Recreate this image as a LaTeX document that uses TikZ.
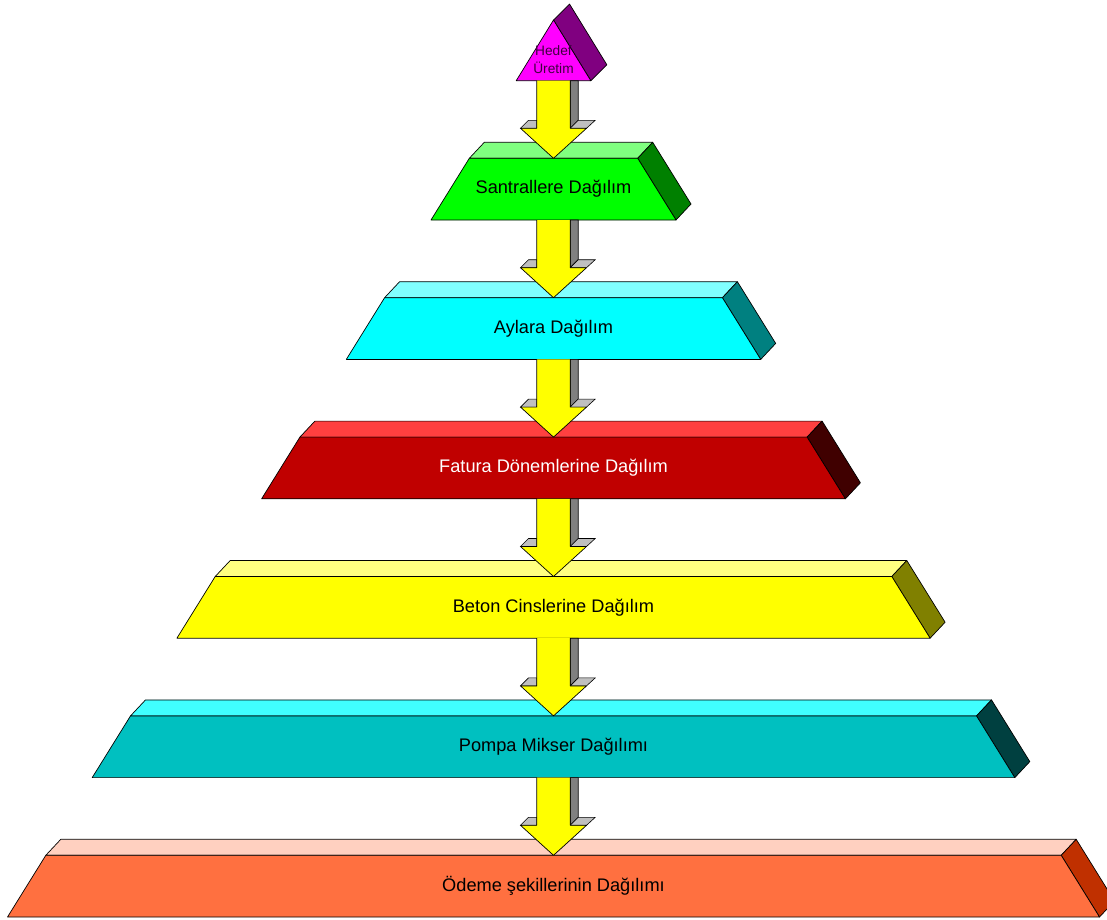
\documentclass[tikz,border=0pt]{standalone}
\usepackage{fontspec}
\setmainfont{Liberation Sans}
\usetikzlibrary{calc}

% colours of the faces: front, top and side
\definecolor{hedeffront}{HTML}{FF00FF}
\definecolor{hedefside}{HTML}{800080}
\definecolor{santralfront}{HTML}{00FF00}
\definecolor{santraltop}{HTML}{80FF80}
\definecolor{santralside}{HTML}{008000}
\definecolor{aylarfront}{HTML}{00FFFF}
\definecolor{aylartop}{HTML}{80FFFF}
\definecolor{aylarside}{HTML}{008080}
\definecolor{faturafront}{HTML}{C00000}
\definecolor{faturatop}{HTML}{FF4040}
\definecolor{faturaside}{HTML}{400000}
\definecolor{betonfront}{HTML}{FFFF00}
\definecolor{betontop}{HTML}{FFFF80}
\definecolor{betonside}{HTML}{808000}
\definecolor{pompafront}{HTML}{00C0C0}
\definecolor{pompatop}{HTML}{40FFFF}
\definecolor{pompaside}{HTML}{004040}
\definecolor{odemefront}{HTML}{FF7040}
\definecolor{odemetop}{HTML}{FFD0C0}
\definecolor{odemeside}{HTML}{C03000}
\definecolor{hedeftext}{HTML}{400040}
\definecolor{arrowfill}{HTML}{FFFF00}

\tikzset{
    face/.style={draw=black, line width=0.7pt, line join=round},
    lvltext/.style={font=\fontsize{18.2}{21}\selectfont, inner sep=0pt},
    shelf/.style={draw=black, line width=0.6pt, fill=black!25},
    shaft/.style={draw=black, line width=0.6pt, fill=black!50},
    blockarrow/.style={draw=black, line width=0.7pt, fill=arrowfill, line join=round}
}

\begin{document}
\begin{tikzpicture}[x=1pt, y=-1pt]
        % picture frame, same size as the reference
        \clip (0,0) rectangle (1107,919);
        \fill[white] (0,0) rectangle (1107,919);
        % the small pyramid on top: side face, then front face
        \filldraw[face, fill=hedefside] (553.5,20) -- (569.5,4) -- (606.8,64.7) -- (590.8,80.7) -- cycle;
        \filldraw[face, fill=hedeffront] (553.5,20) -- (590.8,80.7) -- (516.2,80.7) -- cycle;
        \node[font=\fontsize{13.7}{18}\selectfont, text=hedeftext, align=center, inner sep=0pt]
            (hedef) at (553.5,60) {Hedef\\Üretim};
        \coordinate (hedef-bot) at (553.5,80.7);
        % the six levels of the pyramid
        \foreach \i/\nm/\txt/\tcol in {
            1/santral/Santrallere Dağılım/black,
            2/aylar/Aylara Dağılım/black,
            3/fatura/Fatura Dönemlerine Dağılım/white,
            4/beton/Beton Cinslerine Dağılım/black,
            5/pompa/Pompa Mikser Dağılımı/black,
            6/odeme/Ödeme şekillerinin Dağılımı/black}{
            % top and bottom of the front face
            \pgfmathsetmacro{\ytop}{158.3+139.4*(\i-1)}
            \pgfmathsetmacro{\ybot}{\ytop+61.7}
            % half widths at the bottom and at the top
            \pgfmathsetmacro{\wbot}{122.5+84.7*(\i-1)}
            \pgfmathsetmacro{\wtop}{\wbot-38.3}
            % top face
            \filldraw[face, fill=\nm top] (553.5-\wtop,\ytop) -- (568.5-\wtop,\ytop-16)
                -- (568.5+\wtop,\ytop-16) -- (553.5+\wtop,\ytop) -- cycle;
            % side face
            \filldraw[face, fill=\nm side] (553.5+\wtop,\ytop) -- (568.5+\wtop,\ytop-16)
                -- (568.5+\wbot,\ybot-16) -- (553.5+\wbot,\ybot) -- cycle;
            % front face
            \filldraw[face, fill=\nm front] (553.5-\wbot,\ybot) -- (553.5+\wbot,\ybot)
                -- (553.5+\wtop,\ytop) -- (553.5-\wtop,\ytop) -- cycle;
            % label and anchor points for the arrows
            \node[lvltext, text=\tcol] (\nm) at (553.5,{(\ytop+\ybot)/2}) {\txt};
            \coordinate (\nm-top) at (553.5,\ytop);
            \coordinate (\nm-bot) at (553.5,\ybot);
        }
        % block arrows from each level down to the next
        \foreach \a/\b in {hedef/santral, santral/aylar, aylar/fatura,
                           fatura/beton, beton/pompa, pompa/odeme}{
            % grey side of the shaft
            \filldraw[shaft] ($(\a-bot)+(16.7,0)$) -- ($(\a-bot)+(24.7,0)$)
                -- ($(\b-top)+(24.7,-38)$) -- ($(\b-top)+(16.7,-30)$) -- cycle;
            % grey shelves of the head
            \filldraw[shelf] ($(\b-top)+(16.7,-30)$) -- ($(\b-top)+(24.7,-38)$)
                -- ($(\b-top)+(41.7,-38)$) -- ($(\b-top)+(33,-30)$) -- cycle;
            \filldraw[shelf] ($(\b-top)+(-33,-30)$) -- ($(\b-top)+(-25,-38)$)
                -- ($(\b-top)+(-16.7,-38)$) -- ($(\b-top)+(-16.7,-30)$) -- cycle;
            % yellow arrow
            \filldraw[blockarrow] ($(\a-bot)+(-16.7,0)$) -- ($(\b-top)+(-16.7,-30)$)
                -- ($(\b-top)+(-33,-30)$) -- (\b-top) -- ($(\b-top)+(33,-30)$)
                -- ($(\b-top)+(16.7,-30)$) -- ($(\a-bot)+(16.7,0)$);
        }
    \end{tikzpicture}
\end{document}
